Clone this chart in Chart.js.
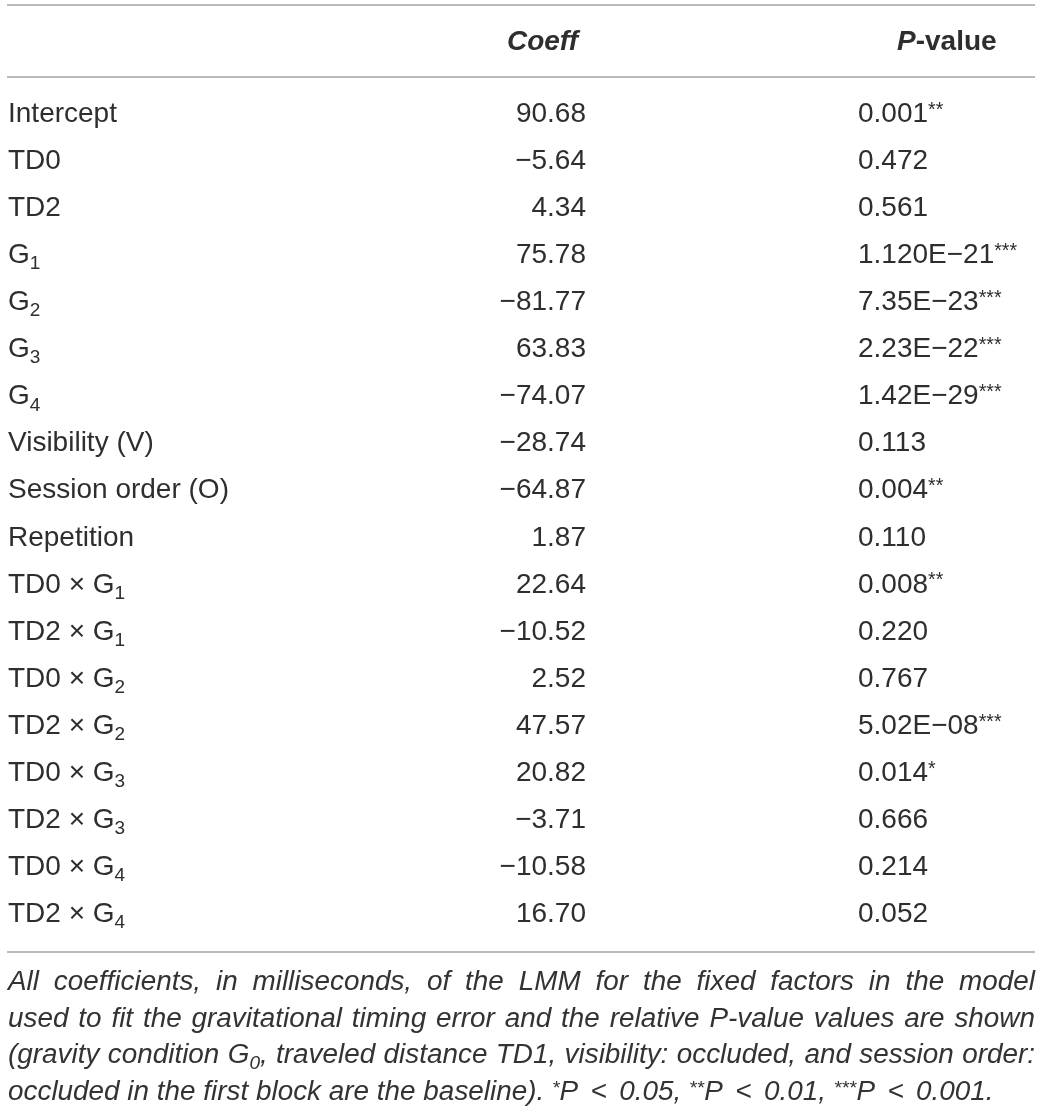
<!DOCTYPE html>
<html>
<head>
<meta charset="utf-8">
<script src="https://cdn.jsdelivr.net/npm/chart.js@4.4.1/dist/chart.umd.min.js"></script>
<style>
    html, body { margin: 0; padding: 0; background: #fff; }
    #wrap { width: 1042px; height: 1113px; position: relative; }
</style>
</head>
<body>
<div id="wrap"><canvas id="tabela"></canvas></div>
<script>
// Dados da tabela ("_n" = subscrito)
const termos = ['Intercept', 'TD0', 'TD2', 'G_1', 'G_2', 'G_3', 'G_4', 'Visibility (V)', 'Session order (O)',
    'Repetition', 'TD0 × G_1', 'TD2 × G_1', 'TD0 × G_2', 'TD2 × G_2', 'TD0 × G_3', 'TD2 × G_3', 'TD0 × G_4', 'TD2 × G_4'];
const coeficientes = [90.68, -5.64, 4.34, 75.78, -81.77, 63.83, -74.07, -28.74, -64.87,
    1.87, 22.64, -10.52, 2.52, 47.57, 20.82, -3.71, -10.58, 16.70];
const pValores = ['0.001', '0.472', '0.561', '1.120E-21', '7.35E-23', '2.23E-22', '1.42E-29', '0.113', '0.004',
    '0.110', '0.008', '0.220', '0.767', '5.02E-08', '0.014', '0.666', '0.214', '0.052'];
const cabecalho = ['Coeff', 'P', '-value'];

// Legenda, linha a linha ("^" = sobrescrito)
const legenda = [
    'All coefficients, in milliseconds, of the LMM for the fixed factors in the model',
    'used to fit the gravitational timing error and the relative P-value values are shown',
    '(gravity condition G_0, traveled distance TD1, visibility: occluded, and session order:',
    'occluded in the first block are the baseline). ^*P < 0.05, ^**P < 0.01, ^***P < 0.001.'
];

const FAMILIA = '"Liberation Sans", Arial, sans-serif';
const COR_TEXTO = '#2e2e2e';
const TAM = 28;
const TAM_LEG = 27;

function estrelas(p) {
    const v = parseFloat(p);
    if (v < 0.001) return '***';
    if (v < 0.01) return '**';
    if (v < 0.05) return '*';
    return '';
}

function menos(s) { return String(s).replace(/-/g, '\u2212'); }

// quebra um texto em segmentos normais / subscritos / sobrescritos
function segmentos(texto, italico) {
    const partes = texto.split(/(_\d|\^\*+)/);
    const segs = [];
    partes.forEach(p => {
        if (!p) return;
        if (p[0] === '_') segs.push({ t: p.slice(1), sub: true, italic: italico });
        else if (p[0] === '^') segs.push({ t: p.slice(1), sup: true, italic: italico });
        else segs.push({ t: p, italic: italico });
    });
    return segs;
}

function fonteSeg(s, tam) {
    let t = tam;
    if (s.sub) t = tam * 0.68;
    if (s.sup) t = tam * 0.7;
    return (s.italic ? 'italic ' : '') + (s.bold ? 'bold ' : '') + Math.round(t * 10) / 10 + 'px ' + FAMILIA;
}

function larguraSegs(ctx, segs, tam) {
    let w = 0;
    segs.forEach(s => { ctx.font = fonteSeg(s, tam); w += ctx.measureText(s.t).width; });
    return w;
}

function desenhaSegs(ctx, segs, x, y, alinhamento, tam) {
    let xi = alinhamento === 'right' ? x - larguraSegs(ctx, segs, tam) : x;
    segs.forEach(s => {
        ctx.font = fonteSeg(s, tam);
        let dy = 0;
        if (s.sub) dy = tam * 0.22;
        if (s.sup) dy = -tam * 0.22;
        ctx.fillText(s.t, xi, y + dy);
        xi += ctx.measureText(s.t).width;
    });
}

function linhaH(ctx, y) {
    ctx.save();
    ctx.strokeStyle = '#a3a3a3';
    ctx.lineWidth = 1.6;
    ctx.beginPath();
    ctx.moveTo(7, y);
    ctx.lineTo(1035, y);
    ctx.stroke();
    ctx.restore();
}

function desenhaLegenda(ctx) {
    const esq = 8, dir = 1035;
    const linhas = legenda.map(l => l.split(' ').map(p => segmentos(p, true)));
    ctx.font = fonteSeg({ italic: true }, TAM_LEG);
    const esp = ctx.measureText(' ').width;
    // a terceira linha quase não tem folga no original: serve de medida
    const ref = linhas[2];
    const wRef = ref.reduce((a, p) => a + larguraSegs(ctx, p, TAM_LEG), 0) + esp * (ref.length - 1);
    const sx = (dir - 6 - esq) / wRef;

    ctx.save();
    ctx.fillStyle = '#333';
    ctx.scale(sx, 1);
    linhas.forEach((palavras, k) => {
        const y = 990 + k * 36.7;
        const larg = palavras.map(p => larguraSegs(ctx, p, TAM_LEG));
        const soma = larg.reduce((a, b) => a + b, 0);
        let gap = esp;
        if (k < linhas.length - 1) gap = ((dir - esq) / sx - soma) / (palavras.length - 1);
        let x = esq / sx;
        palavras.forEach((p, j) => {
            desenhaSegs(ctx, p, x, y, 'left', TAM_LEG);
            // espaço um pouco maior em volta do sinal "<"
            const extra = (k === linhas.length - 1 && (p[0].t === '<' || (palavras[j + 1] && palavras[j + 1][0].t === '<'))) ? esp * 0.6 : 0;
            x += larg[j] + gap + extra;
        });
    });
    ctx.restore();
}

const pluginTabela = {
    id: 'tabela',
    afterDraw(chart) {
        const ctx = chart.ctx;
        const yScale = chart.scales.y;
        ctx.save();
        ctx.textBaseline = 'alphabetic';
        ctx.fillStyle = COR_TEXTO;

        // filetes
        linhaH(ctx, 5);
        linhaH(ctx, 77);
        linhaH(ctx, 952);

        // cabeçalho
        desenhaSegs(ctx, [{ t: cabecalho[0], bold: true, italic: true }], 578, 50, 'right', TAM);
        desenhaSegs(ctx, [{ t: cabecalho[1], bold: true, italic: true }, { t: cabecalho[2], bold: true }], 897, 50, 'left', TAM);

        // linhas da tabela
        termos.forEach((termo, i) => {
            const y = yScale.getPixelForValue(i) + 10;
            desenhaSegs(ctx, segmentos(termo, false), 8, y, 'left', TAM);
            desenhaSegs(ctx, [{ t: menos(coeficientes[i].toFixed(2)) }], 586, y, 'right', TAM);
            const est = estrelas(pValores[i]);
            const segs = [{ t: menos(pValores[i]) }];
            if (est) segs.push({ t: est, sup: true });
            desenhaSegs(ctx, segs, 858, y, 'left', TAM);
        });

        desenhaLegenda(ctx);
        ctx.restore();
    }
};

const canvas = document.getElementById('tabela');
new Chart(canvas.getContext('2d'), {
    type: 'bar',
    data: {
        labels: termos,
        datasets: [{
            data: coeficientes,
            backgroundColor: 'rgba(0,0,0,0)',
            borderWidth: 0
        }]
    },
    options: {
        indexAxis: 'y',
        responsive: true,
        maintainAspectRatio: false,
        animation: false,
        events: [],
        layout: { padding: { top: 88.5, bottom: 177.5, left: 0, right: 0 } },
        scales: {
            x: { display: false },
            y: { display: false, offset: true }
        },
        plugins: {
            legend: { display: false },
            tooltip: { enabled: false }
        }
    },
    plugins: [pluginTabela]
});
</script>
</body>
</html>
